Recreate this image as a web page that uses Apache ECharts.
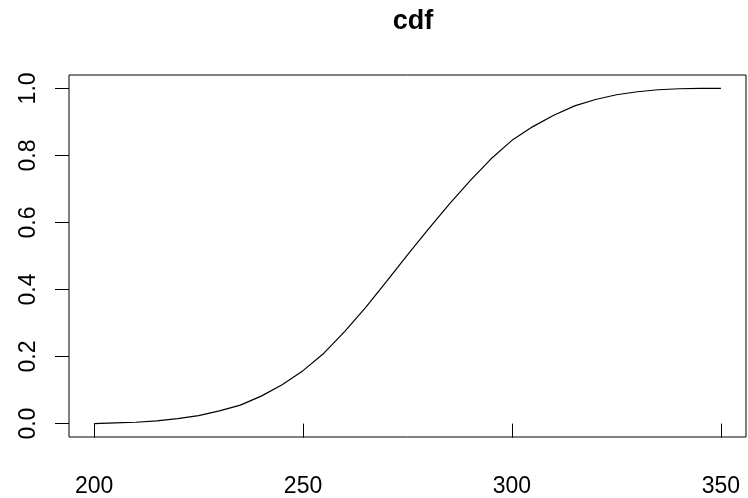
<!DOCTYPE html>
<html>
<head>
<meta charset="utf-8">
<script src="https://cdn.jsdelivr.net/npm/echarts@6/dist/echarts.min.js"></script>
<style>
  html, body { margin: 0; padding: 0; background: #fff; }
  #main { width: 748px; height: 498px; }
</style>
</head>
<body>
<div id="main"></div>
<script>
// values
var xValues = [200, 205, 210, 215, 220, 225, 230, 235, 240, 245, 250, 255, 260, 265, 270, 275,
               280, 285, 290, 295, 300, 305, 310, 315, 320, 325, 330, 335, 340, 345, 350];
var cdfValues = [0.000, 0.002, 0.004, 0.008, 0.015, 0.024, 0.038, 0.055, 0.082, 0.116, 0.158, 0.210,
                 0.275, 0.347, 0.424, 0.503, 0.580, 0.655, 0.725, 0.790, 0.845, 0.886, 0.920, 0.948,
                 0.967, 0.981, 0.990, 0.996, 0.999, 1.000, 1.000];
var xTicks = [200, 250, 300, 350];
var yTicks = [0, 0.2, 0.4, 0.6, 0.8, 1.0];

var FONT = "'Liberation Sans', Arial, sans-serif";

var points = xValues.map(function (x, i) { return [x, cdfValues[i]]; });

var myChart = echarts.init(document.getElementById('main'));

var option = {
    animation: false,
    backgroundColor: '#fff',
    title: {
        text: 'cdf',
        left: 408,
        top: 3,
        textAlign: 'center',
        textStyle: { fontFamily: FONT, fontWeight: 'bold', fontSize: 27, color: '#000' }
    },
    grid: {
        left: 69,
        right: 2,
        top: 75,
        bottom: 60,
        show: true,
        borderColor: '#000',
        borderWidth: 1,
        backgroundColor: 'transparent'
    },
    xAxis: {
        type: 'value',
        min: 194,
        max: 356,
        axisLine: { show: false },
        splitLine: { show: false },
        axisTick: {
            show: true, inside: false, length: 14,
            customValues: xTicks,
            lineStyle: { color: '#000', width: 1 }
        },
        axisLabel: {
            customValues: xTicks,
            margin: 38,
            fontFamily: FONT, fontSize: 23, color: '#000'
        }
    },
    yAxis: {
        type: 'value',
        min: -0.04,
        max: 1.04,
        axisLine: { show: false },
        splitLine: { show: false },
        axisTick: {
            show: true, inside: false, length: 14,
            customValues: yTicks,
            lineStyle: { color: '#000', width: 1 }
        },
        axisLabel: {
            customValues: yTicks,
            rotate: 90,
            margin: 29,
            fontFamily: FONT, fontSize: 23, color: '#000',
            formatter: function (v) { return v.toFixed(1); }
        }
    },
    series: [{
        type: 'line',
        data: points,
        showSymbol: false,
        smooth: false,
        lineStyle: { color: '#000', width: 1.2 }
    }]
};

myChart.setOption(option);
</script>
</body>
</html>
